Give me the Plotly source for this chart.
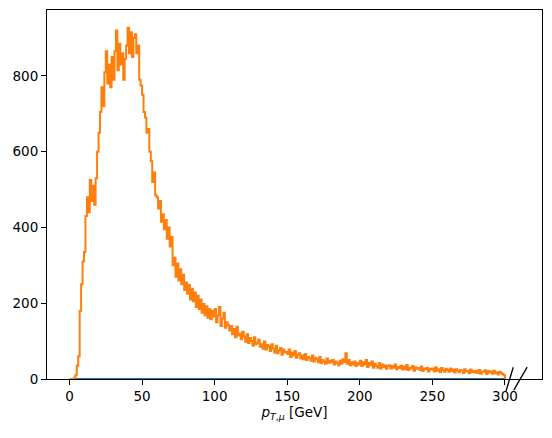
import plotly.graph_objects as go

# muon pT histogram, 1 GeV bins from 0 to 300
bin_edges = list(range(0, 301))

counts_mu = [
    0, 0, 0, 2, 10, 35, 60, 180, 250, 310,
    335, 430, 480, 440, 525, 470, 510, 460, 530, 600,
    650, 705, 770, 720, 810, 865, 780, 830, 770, 850,
    790, 865, 920, 815, 885, 830, 860, 790, 845, 880,
    927, 860, 915, 850, 900, 910, 860, 880, 790, 775,
    750, 705, 690, 650, 660, 600, 575, 520, 545, 485,
    480, 450, 470, 415, 435, 395, 420, 370, 400, 350,
    375, 300, 320, 270, 305, 260, 290, 250, 275, 235,
    255, 225, 248, 210, 238, 205, 228, 190, 220, 185,
    210, 175, 198, 168, 192, 162, 185, 158, 180, 165,
    185, 150, 168, 190, 140, 160, 175, 135, 150, 142,
    128, 140, 118, 132, 110, 138, 115, 120, 105, 125,
    112, 98, 118, 95, 108, 100, 88, 110, 92, 96,
    104, 85, 92, 80, 99, 78, 90, 86, 74, 92,
    80, 70, 88, 68, 76, 82, 64, 78, 70, 72,
    66, 78, 58, 70, 62, 74, 56, 64, 68, 54,
    62, 52, 66, 50, 58, 55, 48, 62, 46, 56,
    52, 44, 58, 42, 50, 46, 40, 54, 43, 48,
    44, 50, 38, 46, 42, 36, 48, 40, 52, 45,
    68, 40, 50, 36, 44, 38, 46, 34, 42, 38,
    48, 34, 44, 38, 50, 32, 42, 36, 46, 30,
    40, 34, 30, 42, 28, 38, 32, 36, 27, 34,
    36, 28, 34, 30, 38, 26, 32, 29, 35, 25,
    33, 26, 37, 24, 30, 28, 34, 22, 31, 27,
    29, 24, 33, 21, 28, 26, 30, 20, 27, 25,
    28, 20, 31, 22, 26, 18, 29, 24, 19, 27,
    24, 19, 28, 21, 25, 17, 26, 22, 18, 24,
    23, 16, 26, 20, 22, 15, 25, 18, 21, 17,
    22, 16, 24, 14, 20, 19, 23, 13, 21, 17,
    20, 14, 22, 15, 18, 12, 19, 16, 13, 10,
]

# second sample: empty over the whole range
counts_other = [0] * 300

x_ticks = [0, 50, 100, 150, 200, 250, 300]
y_ticks = [0, 200, 400, 600, 800]


def step_outline(edges, counts):
    xs, ys = [edges[0]], [0]
    for i, c in enumerate(counts):
        xs += [edges[i], edges[i + 1]]
        ys += [c, c]
    xs.append(edges[-1])
    ys.append(0)
    return xs, ys


fig = go.Figure()
for counts, color in [(counts_other, '#1f77b4'), (counts_mu, '#ff7f0e')]:
    xs, ys = step_outline(bin_edges, counts)
    fig.add_trace(go.Scatter(x=xs, y=ys, mode='lines',
                             line=dict(color=color, width=2), hoverinfo='skip'))

# axis break marks next to 300
for x0, y0, x1, y1 in [(0.927, -0.034, 0.942, 0.032), (0.943, -0.030, 0.970, 0.032)]:
    fig.add_shape(type='line', xref='paper', yref='paper', x0=x0, y0=y0, x1=x1, y1=y1,
                  line=dict(color='black', width=1.3))

axis_style = dict(showgrid=False, zeroline=False, showline=True, mirror=True,
                  linecolor='black', linewidth=1.1, ticks='outside', ticklen=5,
                  tickwidth=1.1, tickcolor='black', automargin=False,
                  tickfont=dict(family='DejaVu Sans', size=13.5, color='black'))

# page body adds an 8px offset, so the figure is sized to the remaining space
fig.update_layout(
    width=544, height=430,
    margin=dict(l=39, r=10, t=2, b=59),
    paper_bgcolor='white', plot_bgcolor='white',
    showlegend=False,
    font=dict(family='DejaVu Sans', color='black'),
    xaxis=dict(axis_style, range=[-15.5, 325.5], tickvals=x_ticks,
               title=dict(text='<i>p</i><sub><i>T</i>,<i>μ</i></sub> [GeV]',
                          font=dict(size=13.5), standoff=4)),
    yaxis=dict(axis_style, range=[0, 974], tickvals=y_ticks),
)

fig.write_html("out.html")
